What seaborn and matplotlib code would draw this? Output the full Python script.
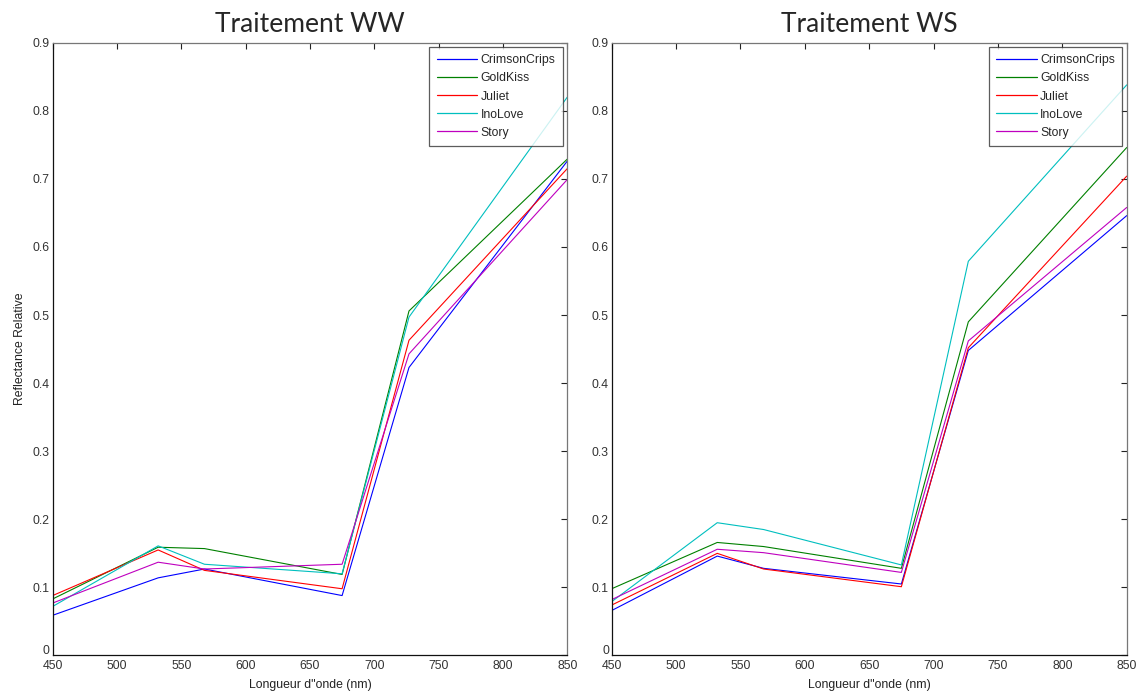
import matplotlib
matplotlib.use("Agg")
import matplotlib.pyplot as plt
import matplotlib.transforms as mtransforms
import seaborn as sns
import pandas as pd

# Wavelength bands (nm)
wavelengths = [450, 532, 568, 675, 727, 850]

varieties = ["CrimsonCrips", "GoldKiss", "Juliet", "InoLove", "Story"]

# Relative reflectance, well-watered treatment
ww_crimson = [0.059, 0.114, 0.127, 0.088, 0.423, 0.726]
ww_goldkiss = [0.083, 0.159, 0.157, 0.119, 0.506, 0.729]
ww_juliet = [0.088, 0.155, 0.125, 0.098, 0.463, 0.715]
ww_inolove = [0.072, 0.161, 0.134, 0.120, 0.497, 0.820]
ww_story = [0.077, 0.137, 0.127, 0.134, 0.443, 0.699]

# Relative reflectance, water-stressed treatment
ws_crimson = [0.066, 0.146, 0.128, 0.105, 0.448, 0.646]
ws_goldkiss = [0.098, 0.166, 0.160, 0.128, 0.490, 0.746]
ws_juliet = [0.074, 0.150, 0.127, 0.101, 0.452, 0.704]
ws_inolove = [0.079, 0.195, 0.185, 0.133, 0.579, 0.838]
ws_story = [0.082, 0.156, 0.151, 0.122, 0.462, 0.658]

palette = {
    "CrimsonCrips": "#0000FF",
    "GoldKiss": "#008000",
    "Juliet": "#FF0000",
    "InoLove": "#00BFBF",
    "Story": "#BF00BF",
}


def long_table(series):
    rows = []
    for name, values in zip(varieties, series):
        for wl, v in zip(wavelengths, values):
            rows.append({"Longueur": wl, "Reflectance": v, "Variete": name})
    return pd.DataFrame(rows)


df_ww = long_table([ww_crimson, ww_goldkiss, ww_juliet, ww_inolove, ww_story])
df_ws = long_table([ws_crimson, ws_goldkiss, ws_juliet, ws_inolove, ws_story])

sns.set_style("white")
plt.rcParams["font.family"] = ["Liberation Sans", "DejaVu Sans"]

fig = plt.figure(figsize=(11.42, 6.91), dpi=100)
ax_l = fig.add_axes([0.0461, 0.0514, 0.4506, 0.8868])
ax_r = fig.add_axes([0.5356, 0.0514, 0.4510, 0.8868])

panels = [(ax_l, df_ww, "Traitement WW"), (ax_r, df_ws, "Traitement WS")]

for ax, df, title in panels:
    sns.lineplot(data=df, x="Longueur", y="Reflectance", hue="Variete",
                 hue_order=varieties, palette=palette, linewidth=0.8,
                 ax=ax, legend=True, errorbar=None)
    ax.set_xlim(450, 850)
    ax.set_ylim(0, 0.9)
    ax.set_xticks(range(450, 851, 50))
    ax.set_yticks([i / 10 for i in range(10)])
    ax.set_yticklabels(["0"] + [f"{i / 10:.1f}" for i in range(1, 10)])
    ax.tick_params(direction="in", top=True, right=True, length=4,
                   width=0.8, labelsize=8.8, colors="#222222",
                   labelcolor="#333333", pad=2)
    ax.tick_params(axis="x", pad=3)
    # lift the "0" label slightly so it sits above the first x label
    zero_label = ax.get_yticklabels()[0]
    zero_label.set_transform(zero_label.get_transform() +
                             mtransforms.ScaledTranslation(0, 4 / 72, fig.dpi_scale_trans))
    for side in ["left", "bottom"]:
        ax.spines[side].set_color("#111111")
        ax.spines[side].set_linewidth(0.9)
    for side in ["top", "right"]:
        ax.spines[side].set_color("#777777")
        ax.spines[side].set_linewidth(0.9)
    ax.set_xlabel('Longueur d"onde (nm)', fontsize=8.8, color="#222222", labelpad=5)
    ax.set_ylabel("")
    ax.set_title(title, fontsize=19, family="Lato", pad=8)
    leg = ax.legend(loc="upper right", fontsize=8.8, frameon=True, fancybox=False,
                    handlelength=3.3, handletextpad=0.3, labelspacing=0.5,
                    borderaxespad=0.35, borderpad=0.6)
    leg.get_frame().set_edgecolor("#333333")
    leg.get_frame().set_linewidth(0.9)
    for line in leg.get_lines():
        line.set_linewidth(0.9)

ax_l.set_ylabel("Reflectance Relative", fontsize=8.8, color="#222222", labelpad=5)

fig.savefig("out.png", dpi=100)
